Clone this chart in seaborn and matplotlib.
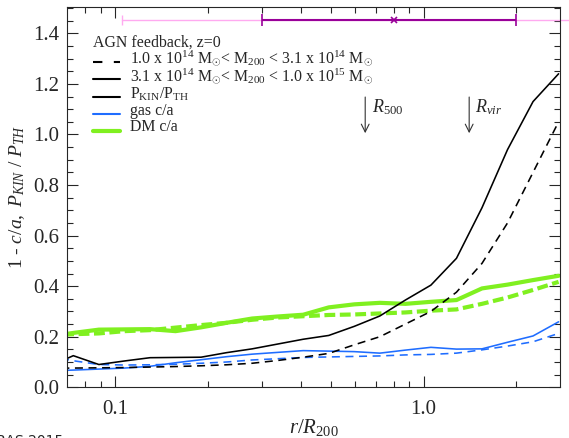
import numpy as np
import pandas as pd
import matplotlib
matplotlib.use("Agg")
import matplotlib.pyplot as plt
from matplotlib.lines import Line2D
from matplotlib.ticker import (FixedLocator, FixedFormatter, MultipleLocator,
                               NullFormatter, FormatStrFormatter)
import seaborn as sns

# radial bins r / R200 (log-spaced; the first bin lies just left of the plotted range)
r_bins = [0.0605, 0.0732, 0.0886, 0.1072, 0.1298, 0.1570, 0.1900, 0.2299, 0.2782,
          0.3366, 0.4073, 0.4929, 0.5964, 0.7217, 0.8733, 1.0565, 1.2786, 1.5470,
          1.8720, 2.265, 2.741]

# P_KIN / P_TH
pkin_low = [0.075, 0.076, 0.077, 0.078, 0.080, 0.082, 0.085, 0.089, 0.095, 0.106,
            0.119, 0.134, 0.168, 0.200, 0.250, 0.300, 0.376, 0.490, 0.650, 0.850, 1.050]
pkin_high = [0.080, 0.125, 0.090, 0.104, 0.117, 0.118, 0.119, 0.137, 0.152, 0.171,
             0.190, 0.205, 0.241, 0.282, 0.345, 0.404, 0.510, 0.710, 0.940, 1.130, 1.240]

# 1 - c/a of the gas
gas_low = [0.125, 0.105, 0.090, 0.088, 0.089, 0.091, 0.095, 0.100, 0.108, 0.113,
           0.118, 0.120, 0.122, 0.124, 0.128, 0.130, 0.135, 0.148, 0.163, 0.180, 0.213]
gas_high = [0.065, 0.068, 0.072, 0.076, 0.083, 0.097, 0.109, 0.121, 0.131, 0.138,
            0.145, 0.143, 0.141, 0.135, 0.147, 0.158, 0.151, 0.152, 0.178, 0.203, 0.259]

# 1 - c/a of the dark matter
dm_low = [0.205, 0.210, 0.213, 0.222, 0.226, 0.236, 0.246, 0.255, 0.267, 0.276,
          0.281, 0.286, 0.288, 0.292, 0.296, 0.303, 0.308, 0.330, 0.355, 0.385, 0.417]
dm_high = [0.200, 0.215, 0.228, 0.229, 0.230, 0.222, 0.237, 0.255, 0.272, 0.280,
           0.287, 0.316, 0.328, 0.334, 0.330, 0.338, 0.345, 0.391, 0.406, 0.424, 0.441]

# characteristic radii
r500, rvir = 0.647, 1.406

# radius range bars along the top
bar_centre, bar_lo, bar_hi = 0.80, 0.30, 2.00
faint_lo, faint_hi = 0.105, 3.05
bar_level = 1.452

BLACK = "#000000"
BLUE = "#1f6dff"
GREEN = "#80f020"
PURPLE = "#990099"
PINK = "#ffaaf0"

sns.set_style("ticks")
plt.rcParams["font.family"] = ["Liberation Serif", "DejaVu Serif"]
plt.rcParams["mathtext.fontset"] = "custom"
plt.rcParams["mathtext.rm"] = "Liberation Serif"
plt.rcParams["mathtext.it"] = "Liberation Serif:italic"
plt.rcParams["mathtext.bf"] = "Liberation Serif:bold"

fig = plt.figure(figsize=(5.69, 4.38), dpi=100)
ax = fig.add_axes([0.1183, 0.1158, 0.8659, 0.8676])

series = [
    (dm_low, GREEN, 3.0, (2.6, 1.1)),
    (dm_high, GREEN, 3.0, None),
    (gas_low, BLUE, 1.15, (5, 3.5)),
    (gas_high, BLUE, 1.15, None),
    (pkin_low, BLACK, 1.15, (5, 3.5)),
    (pkin_high, BLACK, 1.15, None),
]
for vals, col, lw, dash in series:
    df = pd.DataFrame({"r": r_bins, "v": vals})
    sns.lineplot(data=df, x="r", y="v", ax=ax, color=col, linewidth=lw,
                 estimator=None, sort=False, legend=False)
    line = ax.lines[-1]
    if dash is not None:
        line.set_dashes(dash)

ax.set_xscale("log")
ax.set_xlim(0.07, 2.77)
ax.set_ylim(0.0, 1.503)

# range bars at the top
ax.plot([faint_lo, faint_hi], [bar_level, bar_level], color=PINK, lw=1.0, clip_on=False)
ax.plot([faint_lo], [bar_level], marker="|", ms=7, color=PINK, mew=1.0, clip_on=False)
ax.errorbar([bar_centre], [bar_level],
            xerr=[[bar_centre - bar_lo], [bar_hi - bar_centre]],
            fmt="x", color=PURPLE, ms=5, mew=1.2, elinewidth=1.5, capsize=4, capthick=1.5)

# R500 and Rvir markers
for rr, lab, dx in [(r500, r"$R_{\mathit{500}}$", 1.05), (rvir, r"$R_{vir}$", 1.045)]:
    ax.annotate("", xy=(rr, 1.005), xytext=(rr, 1.148),
                arrowprops=dict(arrowstyle="->", color="#333333", lw=0.8,
                                mutation_scale=14, shrinkA=0, shrinkB=0))
    ax.text(rr * dx, 1.108, lab, fontsize=13, ha="left", va="center")

# axes styling
ax.xaxis.set_major_locator(FixedLocator([0.1, 1.0]))
ax.xaxis.set_major_formatter(FixedFormatter(["0.1", "1.0"]))
ax.xaxis.set_minor_locator(FixedLocator([0.08, 0.09, 0.2, 0.3, 0.4, 0.5, 0.6, 0.7, 0.8, 0.9, 2.0]))
ax.xaxis.set_minor_formatter(NullFormatter())
ax.yaxis.set_major_locator(MultipleLocator(0.2))
ax.yaxis.set_major_formatter(FormatStrFormatter("%.1f"))
ax.yaxis.set_minor_locator(MultipleLocator(0.05))
ax.tick_params(which="both", direction="in", top=True, right=True, width=0.8,
               labelsize=15)
ax.tick_params(axis="x", pad=9)
ax.tick_params(axis="y", pad=6)
ax.tick_params(which="major", length=8)
ax.tick_params(which="minor", length=4.5)
for sp in ax.spines.values():
    sp.set_linewidth(0.8)
    sp.set_visible(True)

ax.set_xlabel(r"$r/R_{\mathit{200}}$", fontsize=15, labelpad=-1)
ax.set_ylabel(r"1 - $c/a,\ P_{KIN}\ /\ P_{TH}$", fontsize=14, labelpad=4)

# key, laid out row by row in axes coordinates
def ax_x(px):
    return (px - 67.3) / 492.7


def ax_y(py):
    return (387.3 - py) / 380.0


key_font = 11.4
ax.text(ax_x(93), ax_y(46.7), "AGN feedback, z=0", transform=ax.transAxes,
        fontsize=key_font, ha="left", va="baseline")

msun = r"M$_{\odot}$"
key_rows = [
    (dict(color=BLACK, lw=1.5, dashes=(4.5, 5.5)),
     r"1.0 x 10$^{14}$ " + msun + r"< M$_{200}$ < 3.1 x 10$^{14}$ " + msun, 61.7, 63.3),
    (dict(color=BLACK, lw=1.5),
     r"3.1 x 10$^{14}$ " + msun + r"< M$_{200}$ < 1.0 x 10$^{15}$ " + msun, 79.0, 81.0),
    (dict(color=BLACK, lw=1.5), r"P$_{\rm KIN}$/P$_{\rm TH}$", 97.0, 98.3),
    (dict(color=BLUE, lw=1.5), "gas c/a", 114.0, 115.0),
    (dict(color=GREEN, lw=3.0), "DM c/a", 131.0, 131.5),
]
for style, text, line_py, base_py in key_rows:
    ax.add_line(Line2D([ax_x(93), ax_x(120)], [ax_y(line_py)] * 2,
                       transform=ax.transAxes, **style))
    ax.text(ax_x(130), ax_y(base_py), text, transform=ax.transAxes,
            fontsize=key_font, ha="left", va="baseline")

fig.text(0.111, -0.006, "MNRAS 2015", fontsize=10, ha="right", va="center",
         family="DejaVu Sans")

fig.savefig("out.png", dpi=100)
